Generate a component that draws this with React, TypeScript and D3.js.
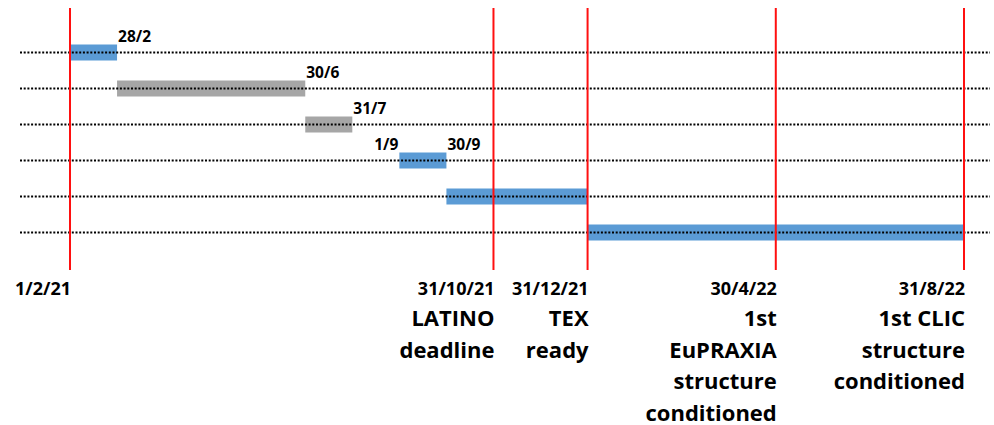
import React from "react";
import * as d3 from "d3";

// ---- data ----
const rowIds = [0, 1, 2, 3, 4, 5];
const barStarts = ["2021-02-01", "2021-03-01", "2021-07-01", "2021-09-01", "2021-10-01", "2022-01-01"];
const barEnds = ["2021-02-28", "2021-06-30", "2021-07-31", "2021-09-30", "2021-12-31", "2022-08-31"];
const barKinds = ["main", "prep", "prep", "main", "main", "main"];
const barStartLabels = ["", "", "", "1/9", "", ""];
const barEndLabels = ["28/2", "30/6", "31/7", "30/9", "", ""];

const milestoneDates = ["2021-02-01", "2021-10-31", "2021-12-31", "2022-04-30", "2022-08-31"];
const milestoneEdges = ["start", "end", "end", "end", "end"];
const milestoneDateLabels = ["1/2/21", "31/10/21", "31/12/21", "30/4/22", "31/8/22"];
const milestoneTexts = [
  [],
  ["LATINO", "deadline"],
  ["TEX", "ready"],
  ["1st", "EuPRAXIA", "structure", "conditioned"],
  ["1st CLIC", "structure", "conditioned"],
];

const timelineStart = "2021-02-01";
const timelineEnd = "2022-08-31";

const kindColor: Record<string, string> = { main: "#5b9bd5", prep: "#a6a6a6" };

const W = 994;
const H = 425;
const parse = d3.timeParse("%Y-%m-%d");
const FONT = "'Open Sans', sans-serif";

// fractional month index since timeline start (each month has equal width)
const origin = parse(timelineStart)!;
function monthPos(iso: string, edge: "start" | "end") {
  const d = parse(iso)!;
  const m0 = d3.timeMonth.floor(d);
  const m1 = d3.timeMonth.offset(m0, 1);
  const days = d3.timeDay.count(m0, m1);
  const dayIdx = d.getDate() - 1 + (edge === "end" ? 1 : 0);
  return d3.timeMonth.count(origin, m0) + dayIdx / days;
}

export default function App() {
  const x = d3
    .scaleLinear()
    .domain([monthPos(timelineStart, "start"), monthPos(timelineEnd, "end")])
    .range([70, 964]);
  const y = d3.scalePoint<number>().domain(rowIds).range([52.5, 232.5]);
  const barH = 16;

  return (
    <svg
      width={W}
      height={H}
      style={{ position: "absolute", left: 0, top: 0, background: "#fff" }}
      fontFamily={FONT}
    >
      {/* bars */}
      {rowIds.map((i) => {
        const x0 = x(monthPos(barStarts[i], "start"));
        const x1 = x(monthPos(barEnds[i], "end"));
        return (
          <rect
            key={"b" + i}
            x={x0}
            y={y(i)! - barH / 2}
            width={x1 - x0}
            height={barH}
            fill={kindColor[barKinds[i]]}
          />
        );
      })}
      {/* dotted row lines */}
      {rowIds.map((i) => (
        <line
          key={"l" + i}
          x1={20}
          x2={990}
          y1={y(i)!}
          y2={y(i)!}
          stroke="#000"
          strokeWidth={2}
          strokeDasharray="2 1.7"
        />
      ))}
      {/* milestone red lines */}
      {milestoneDates.map((d, j) => {
        const mx = x(monthPos(d, milestoneEdges[j] as any));
        return (
          <line key={"m" + j} x1={mx} x2={mx} y1={8} y2={270} stroke="#ff1010" strokeWidth={2} />
        );
      })}
      {/* bar labels */}
      {rowIds.map((i) => (
        <g key={"t" + i} fontSize={15.5} fontWeight={700} fill="#000">
          {barStartLabels[i] && (
            <text x={x(monthPos(barStarts[i], "start")) - 1} y={y(i)! - 11} textAnchor="end">
              {barStartLabels[i]}
            </text>
          )}
          {barEndLabels[i] && (
            <text x={x(monthPos(barEnds[i], "end")) + 1} y={y(i)! - 11} textAnchor="start">
              {barEndLabels[i]}
            </text>
          )}
        </g>
      ))}
      {/* milestone labels */}
      {milestoneDates.map((d, j) => {
        const mx = x(monthPos(d, milestoneEdges[j] as any)) + 1;
        return (
          <g key={"ml" + j} fontWeight={700} fill="#000" textAnchor="end">
            <text x={mx} y={295} fontSize={18}>
              {milestoneDateLabels[j]}
            </text>
            {milestoneTexts[j].map((t, k) => (
              <text key={k} x={mx} y={326 + k * 31.5} fontSize={22}>
                {t}
              </text>
            ))}
          </g>
        );
      })}
    </svg>
  );
}
